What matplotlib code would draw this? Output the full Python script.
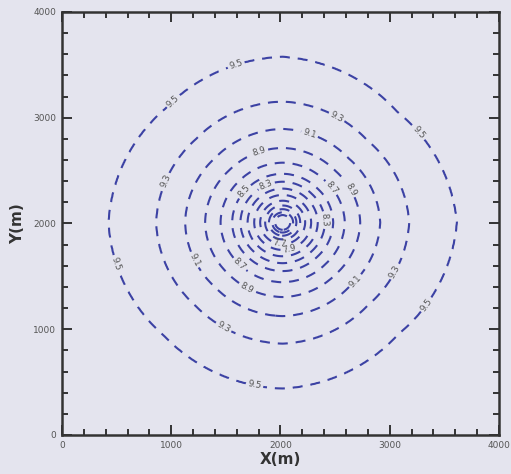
import numpy as np
import matplotlib
matplotlib.use("Agg")
import matplotlib.pyplot as plt

# head contour levels and their radius from the well (m)
levels = [6.9, 7.1, 7.3, 7.5, 7.7, 7.9, 8.1, 8.3, 8.5, 8.7, 8.9, 9.1, 9.3, 9.5]
radii = [70, 95, 125, 160, 205, 260, 320, 385, 460, 565, 705, 885, 1145, 1570]

# well position and the shape of the outer (9.5) ring by direction
well_x, well_y = 2020, 2010
ring_angles = [0, 45, 90, 135, 180, 225, 270, 315, 360]
ring_radii = [1593, 1480, 1565, 1520, 1593, 1525, 1570, 1495, 1593]

# where the contour labels sit
label_pos = [
    (1602, 3470), (1065, 3101), (3241, 2837), (509, 1626), (3056, 1541),
    (3297, 1258), (1759, 444),
    (972, 2392), (2509, 2998), (1463, 993),
    (2269, 2856), (1167, 1636), (2695, 1447),
    (1806, 2686), (2602, 2298), (1667, 1352),
    (2463, 2336), (1602, 1589),
    (1676, 2298), (1861, 2383), (2408, 2033),
    (1991, 1800), (2080, 1760),
]

bg = "#e4e4ee"
line_col = "#3c42a4"

x = np.linspace(0, 4000, 401)
y = np.linspace(0, 4000, 401)
X, Y = np.meshgrid(x, y)
dx, dy = X - well_x, Y - well_y
r = np.hypot(dx, dy)
ang = np.degrees(np.arctan2(dy, dx)) % 360
r_outer = np.interp(ang, ring_angles, ring_radii)
w = np.clip(r / r_outer, 0, 1)
rho = r * (radii[-1] / r_outer) ** w
H = np.interp(rho, [0] + radii + [3500], [6.5] + levels + [9.9])

fig = plt.figure(figsize=(5.11, 4.74), dpi=100, facecolor=bg)
ax = fig.add_axes([0.1213, 0.0823, 0.8552, 0.8924], facecolor=bg)

cs = ax.contour(X, Y, H, levels=levels, colors=line_col,
                linewidths=1.5, linestyles=[(0, (4.8, 3.8))])
ax.clabel(cs, fmt="%.1f", fontsize=6.3, colors="#555555", inline=True,
          inline_spacing=2, manual=label_pos)

ax.set_xlim(0, 4000)
ax.set_ylim(0, 4000)
ax.set_xticks(np.arange(0, 4001, 1000))
ax.set_yticks(np.arange(0, 4001, 1000))
ax.set_xticks(np.arange(0, 4001, 200), minor=True)
ax.set_yticks(np.arange(0, 4001, 200), minor=True)
ax.tick_params(which="both", direction="in", top=True, right=True,
               color="#333333", width=1.4)
ax.tick_params(which="major", length=7, labelsize=6.5, labelcolor="#555555", pad=4)
ax.tick_params(which="minor", length=4)
for s in ax.spines.values():
    s.set_color("#333333")
    s.set_linewidth(1.8)

ax.set_xlabel("X(m)", fontsize=11, fontweight="bold", color="#333333", labelpad=2)
ax.set_ylabel("Y(m)", fontsize=11, fontweight="bold", color="#333333", labelpad=6)

fig.savefig("out.png", dpi=100, facecolor=bg)
